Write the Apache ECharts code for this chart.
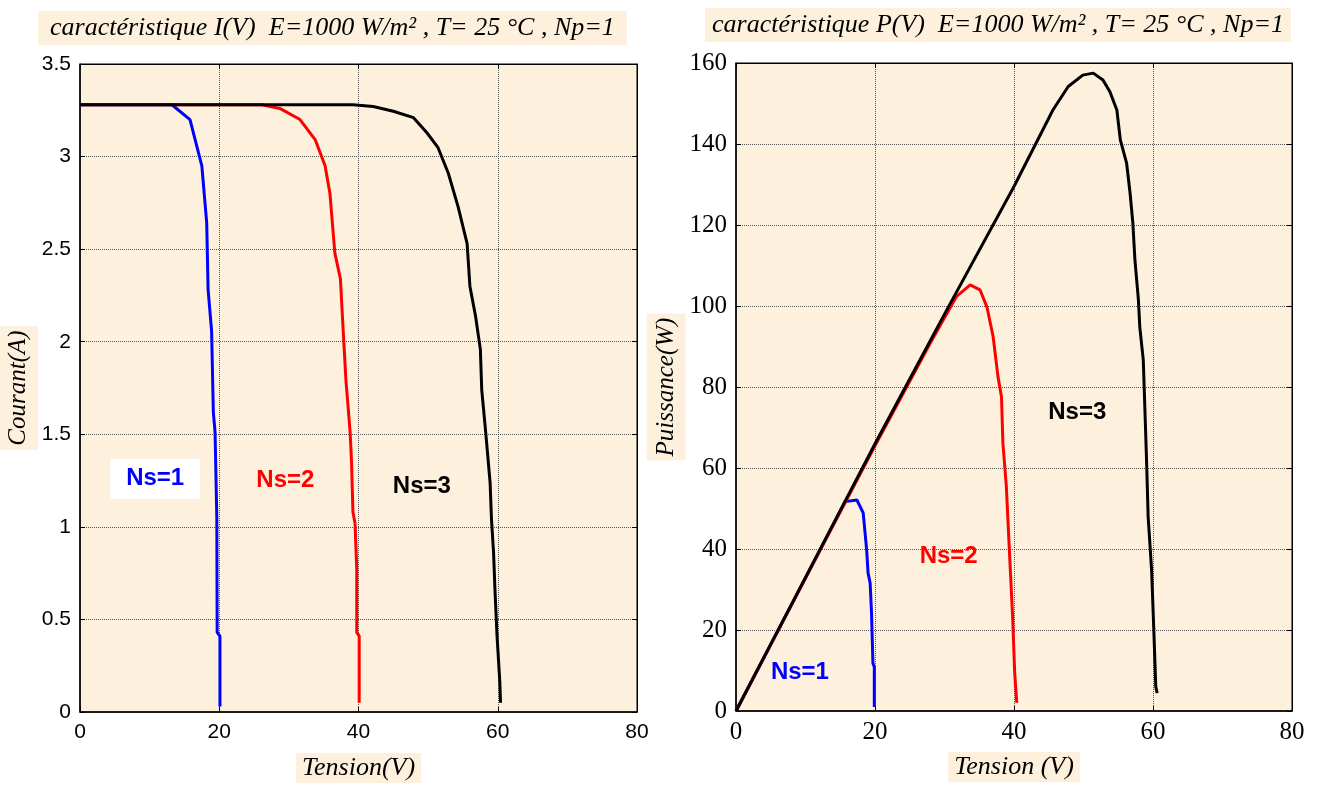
<!DOCTYPE html>
<html>
<head>
<meta charset="utf-8">
<script src="https://cdn.jsdelivr.net/npm/echarts@6/dist/echarts.min.js"></script>
<style>
  html, body { margin: 0; padding: 0; background: #fff; }
  #chart { width: 1319px; height: 785px; }
</style>
</head>
<body>
<div id="chart"></div>
<script>
// I(V) curves
var ivVolt1 = [0, 13.2, 15.8, 17.5, 18.2, 18.4, 18.9, 19.15, 19.4, 19.65, 19.7, 20.1, 20.1]
var ivCurr1 = [3.28, 3.28, 3.2, 2.95, 2.64, 2.28, 2.06, 1.62, 1.51, 1.05, 0.43, 0.41, 0.03]
var ivVolt2 = [0, 26.1, 28.7, 31.6, 33.8, 35.2, 35.9, 36.6, 37.4, 37.8, 38.2, 38.8, 39.0, 39.2, 39.5, 39.75, 39.75, 40.1, 40.1]
var ivCurr2 = [3.28, 3.28, 3.26, 3.2, 3.09, 2.95, 2.8, 2.48, 2.34, 2.06, 1.79, 1.51, 1.35, 1.08, 1.02, 0.77, 0.43, 0.41, 0.05]
var ivVolt3 = [0, 39.2, 42.1, 45, 47.9, 49.8, 51.4, 52.9, 54.3, 55.6, 56, 56.8, 57.5, 57.7, 58.2, 58.9, 59.1, 59.4, 59.6, 59.9, 60.3, 60.4]
var ivCurr3 = [3.28, 3.28, 3.27, 3.245, 3.21, 3.13, 3.05, 2.91, 2.73, 2.53, 2.3, 2.14, 1.96, 1.74, 1.54, 1.24, 1.04, 0.86, 0.66, 0.41, 0.16, 0.05]

// P(V) curves
var pvVolt1 = [0, 5, 10, 15.7, 17.4, 18.3, 18.8, 19.0, 19.3, 19.5, 19.7, 19.9, 19.9]
var pvPow1 = [0, 16.4, 32.8, 51.7, 52.1, 48.9, 39.8, 34.1, 31.6, 24.2, 11.8, 10.9, 1]
var pvVolt2 = [0, 10, 20, 28, 31.7, 33.7, 35.1, 36.1, 37, 37.7, 38.2, 38.4, 38.9, 39.4, 39.8, 40.1, 40.4]
var pvPow2 = [0, 32.8, 65.5, 91, 102.3, 105.2, 104, 99.8, 92.4, 82.5, 77.6, 66.2, 55.4, 37.3, 23.3, 9.4, 2]
var pvVolt3 = [0, 10, 20, 30, 40, 45.6, 47.8, 49.9, 51.4, 52.8, 53.8, 54.8, 55.3, 56.2, 56.7, 57.1, 57.4, 57.9, 58.1, 58.6, 58.9, 59.1, 59.3, 59.8, 60.1, 60.4, 60.6]
var pvPow3 = [0, 33, 66, 98, 129.5, 148.4, 154.2, 157, 157.5, 155.8, 152.9, 148.4, 141, 135.3, 127.9, 120.5, 111.4, 101.5, 94.8, 86.7, 71.1, 60.3, 48, 34.8, 20.8, 6, 4.4]

// axes
var voltMax = 80
var voltStep = 20
var currMax = 3.5
var currStep = 0.5
var powMax = 160
var powStep = 20

// annotation positions (data coords)
var ivLabelPos = [[10.8, 1.26], [29.5, 1.25], [49.1, 1.22]]
var pvLabelPos = [[9.2, 9.6], [30.6, 38.3], [49.1, 73.8]]
var nsNames = ['Ns=1', 'Ns=2', 'Ns=3']
var colors = ['#0000ff', '#ff0000', '#000000']

var bg = '#fdf0dc'
var serif = 'Liberation Serif'
var sans = 'Liberation Sans'
// single-word families for tick labels (multi-word names were dropped there)
var tickSerif = 'Times'
var tickSans = 'Arial'

function zip(a, b) {
  return a.map(function(v, i) { return [v, b[i]] })
}

function frameLine(w) {
  return { show: true, onZero: false, lineStyle: { color: '#000', width: w } }
}
var innerTick = { show: true, inside: true, length: 5, lineStyle: { color: '#000' } }
var dotGrid = { show: true, lineStyle: { color: '#555', type: 'dotted', width: 1 } }

var chart = echarts.init(document.getElementById('chart'))

var series = []
var ivData = [zip(ivVolt1, ivCurr1), zip(ivVolt2, ivCurr2), zip(ivVolt3, ivCurr3)]
var pvData = [zip(pvVolt1, pvPow1), zip(pvVolt2, pvPow2), zip(pvVolt3, pvPow3)]

function curve(i, axisIdx, data, labelCoord, boxed) {
  return {
    type: 'line', xAxisIndex: axisIdx, yAxisIndex: axisIdx,
    data: data, showSymbol: false, smooth: false,
    lineStyle: { color: colors[i], width: 3 },
    markPoint: {
      symbol: 'circle', symbolSize: 0,
      label: {
        show: true, position: 'inside', formatter: nsNames[i],
        color: colors[i], fontFamily: sans, fontWeight: 'bold', fontSize: 24,
        backgroundColor: boxed ? '#fff' : 'transparent',
        padding: boxed ? [8, 16, 8, 16] : 0
      },
      data: [{ coord: labelCoord }]
    }
  }
}
ivData.forEach(function(d, i) { series.push(curve(i, 0, d, ivLabelPos[i], i === 0)) })
pvData.forEach(function(d, i) { series.push(curve(i, 1, d, pvLabelPos[i], false)) })

var nameX = { fontFamily: serif, fontStyle: 'italic', fontSize: 26, color: '#000', backgroundColor: bg, padding: [2, 6, 2, 6] }
var nameY = { fontFamily: serif, fontStyle: 'italic', fontSize: 25, color: '#000', backgroundColor: bg, padding: [7, 4, 7, 4] }

chart.setOption({
  animation: false,
  backgroundColor: '#fff',
  title: [
    {
      text: 'caractéristique I(V)  E=1000 W/m² , T= 25 °C , Np=1',
      left: 38, top: 11, padding: [4, 12, 4, 12], backgroundColor: bg,
      textStyle: { fontFamily: serif, fontStyle: 'italic', fontWeight: 'normal', fontSize: 26, color: '#000' }
    },
    {
      text: 'caractéristique P(V)  E=1000 W/m² , T= 25 °C , Np=1',
      left: 705, top: 8, padding: [4, 7, 4, 7], backgroundColor: bg,
      textStyle: { fontFamily: serif, fontStyle: 'italic', fontWeight: 'normal', fontSize: 26, color: '#000' }
    }
  ],
  grid: [
    { left: 80, top: 64, width: 557, height: 648, outerBoundsMode: 'none', show: true, backgroundColor: bg, borderColor: '#000', borderWidth: 1 },
    { left: 736, top: 63, width: 556, height: 648, outerBoundsMode: 'none', show: true, backgroundColor: bg, borderColor: '#000', borderWidth: 1 }
  ],
  xAxis: [
    {
      type: 'value', gridIndex: 0, min: 0, max: voltMax, interval: voltStep,
      name: 'Tension(V)', nameLocation: 'middle', nameGap: 41, nameTextStyle: nameX,
      axisLine: frameLine(1.5), axisTick: innerTick, splitLine: dotGrid,
      axisLabel: { margin: 10, color: '#000', fontFamily: tickSans, fontSize: 21 }
    },
    {
      type: 'value', gridIndex: 1, min: 0, max: voltMax, interval: voltStep,
      name: 'Tension (V)', nameLocation: 'middle', nameGap: 41, nameTextStyle: nameX,
      axisLine: frameLine(1.5), axisTick: innerTick, splitLine: dotGrid,
      axisLabel: { margin: 9, color: '#000', fontFamily: tickSerif, fontSize: 25 }
    },
    {
      type: 'value', gridIndex: 0, position: 'top', min: 0, max: voltMax, interval: voltStep,
      axisLine: frameLine(1), axisTick: innerTick, axisLabel: { show: false }, splitLine: { show: false }
    },
    {
      type: 'value', gridIndex: 1, position: 'top', min: 0, max: voltMax, interval: voltStep,
      axisLine: frameLine(1), axisTick: innerTick, axisLabel: { show: false }, splitLine: { show: false }
    }
  ],
  yAxis: [
    {
      type: 'value', gridIndex: 0, min: 0, max: currMax, interval: currStep,
      name: 'Courant(A)', nameLocation: 'middle', nameGap: 30, nameRotate: 90, nameTextStyle: nameY,
      axisLine: frameLine(1.5), axisTick: innerTick, splitLine: dotGrid,
      axisLabel: { margin: 9, color: '#000', fontFamily: tickSans, fontSize: 21 }
    },
    {
      type: 'value', gridIndex: 1, min: 0, max: powMax, interval: powStep,
      name: 'Puissance(W)', nameLocation: 'middle', nameGap: 37, nameRotate: 90, nameTextStyle: nameY,
      axisLine: frameLine(1.5), axisTick: innerTick, splitLine: dotGrid,
      axisLabel: { margin: 9, color: '#000', fontFamily: tickSerif, fontSize: 25 }
    },
    {
      type: 'value', gridIndex: 0, position: 'right', min: 0, max: currMax, interval: currStep,
      axisLine: frameLine(1), axisTick: innerTick, axisLabel: { show: false }, splitLine: { show: false }
    },
    {
      type: 'value', gridIndex: 1, position: 'right', min: 0, max: powMax, interval: powStep,
      axisLine: frameLine(1), axisTick: innerTick, axisLabel: { show: false }, splitLine: { show: false }
    }
  ],
  series: series
})
</script>
</body>
</html>
